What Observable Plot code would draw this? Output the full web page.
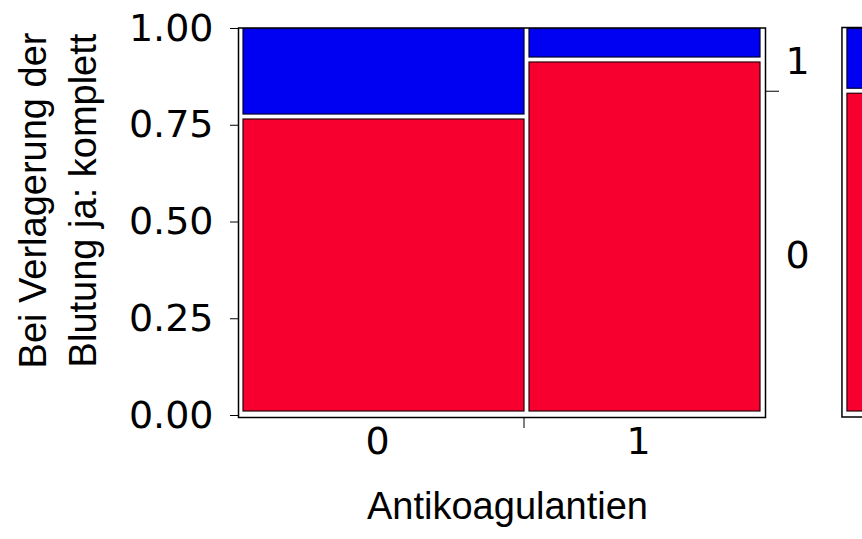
<!DOCTYPE html>
<html><head><meta charset="utf-8">
<script src="https://cdn.jsdelivr.net/npm/d3@7"></script>
<script src="https://cdn.jsdelivr.net/npm/@observablehq/plot@0.6"></script>
<style>
html,body{margin:0;padding:0;background:#fff;overflow:hidden;}
#chart svg{overflow:hidden;display:block;}
</style></head><body><div id="chart"></div>
<script>
// ---- data ----
const categories = ["0", "1"];            // Antikoagulantien
const columnShare = [0.5479, 0.4521];     // mosaic column widths (share of cases)
const responseLevels = ["0", "1"];        // Bei Verlagerung der Blutung ja: komplett
const shareLevel0 = [0.7713, 0.9186];     // share of level "0" inside each column
const yTicks = [0, 0.25, 0.5, 0.75, 1];
const xTitle = "Antikoagulantien";
const yTitle = "Bei Verlagerung der\nBlutung ja: komplett";
const levelColors = ["#f70030", "#0000f2"];

// ---- layout ----
const W = 862, H = 539;
const marginPanel = [1.157, 1.8]; // position of the (cropped) overall panel, in x units
const fontNum = "DejaVu Sans", fontLab = "Liberation Sans";

// ---- build mosaic cells ----
const cells = [];
let acc = 0;
categories.forEach((c, i) => {
  const x1 = acc, x2 = acc + columnShare[i];
  cells.push({cat: c, level: responseLevels[0], x1, x2, y1: 0, y2: shareLevel0[i]});
  cells.push({cat: c, level: responseLevels[1], x1, x2, y1: shareLevel0[i], y2: 1});
  acc = x2;
});
const overall0 = d3.sum(categories, (c, i) => columnShare[i] * shareLevel0[i]);
const margCells = [
  {level: responseLevels[0], x1: marginPanel[0], x2: marginPanel[1], y1: 0, y2: overall0},
  {level: responseLevels[1], x1: marginPanel[0], x2: marginPanel[1], y1: overall0, y2: 1}
];
const allCells = cells.concat(margCells);
const lvl0 = allCells.filter(d => d.level === responseLevels[0]);
const lvl1 = allCells.filter(d => d.level === responseLevels[1]);
const colBoundaries = [columnShare[0]];

const chart = Plot.plot({
  width: W, height: H,
  marginLeft: 240.5, marginRight: W - 762.5, marginTop: 28, marginBottom: H - 415,
  style: {fontFamily: fontNum, background: "#fff"},
  x: {domain: [0, 1]},
  y: {domain: [0, 1]},
  marks: [
    Plot.frame({stroke: "#000", strokeWidth: 1.5, insetLeft: -2.5, insetRight: -2.5, insetTop: -0.5, insetBottom: -2}),
    Plot.rect([{x1: marginPanel[0], x2: marginPanel[1]}], {x1: "x1", x2: "x2", y1: () => 0, y2: () => 1, fill: "none", stroke: "#000", strokeWidth: 1.5, insetLeft: -2.5, insetRight: -2.5, insetTop: -0.5, insetBottom: -2}),
    Plot.rect(lvl0, {x1: "x1", x2: "x2", y1: "y1", y2: "y2", fill: levelColors[0], stroke: "#2a0008", strokeWidth: 1.2, insetLeft: 2.5, insetRight: 2.5, insetTop: 2.5, insetBottom: 4}),
    Plot.rect(lvl1, {x1: "x1", x2: "x2", y1: "y1", y2: "y2", fill: levelColors[1], stroke: "#000030", strokeWidth: 1.2, insetLeft: 2.5, insetRight: 2.5, insetTop: 0.5, insetBottom: 2.5}),
    Plot.axisY(yTicks, {tickFormat: d3.format(".2f"), tickSize: 8, tickPadding: 17, fontSize: 38, dx: -2.5, label: null, fontFamily: fontNum, fill: "#000"}),
    Plot.axisY([overall0], {anchor: "right", tickSize: 13, tickFormat: () => "", dx: 2.5, label: null}),
    Plot.text(margCells, {y: d => (d.y1 + d.y2) / 2, text: "level", frameAnchor: "right", textAnchor: "middle", dx: 34.5, dy: 2, fontSize: 38, fontFamily: fontNum, fill: "#000"}),
    Plot.axisX(colBoundaries, {tickSize: 11, tickFormat: () => "", dy: 2, dx: -3, label: null}),
    Plot.text(cells.filter(d => d.level === responseLevels[0]), {x: d => (d.x1 + d.x2) / 2, text: "cat", frameAnchor: "bottom", dy: 38, dx: -6.5, fontSize: 38, fontFamily: fontNum, fill: "#000"}),
    Plot.text([xTitle], {text: d => d, frameAnchor: "bottom", dy: 103, dx: 5.5, fontSize: 38, fontFamily: fontLab, fill: "#000"}),
    Plot.text([yTitle], {text: d => d, frameAnchor: "left", textAnchor: "middle", rotate: -90, dx: 54.8 - 240.5, dy: -21.5, lineHeight: 1.316, fontSize: 38, fontFamily: fontLab, fill: "#000"})
  ]
});
document.getElementById("chart").appendChild(chart);
</script></body></html>
